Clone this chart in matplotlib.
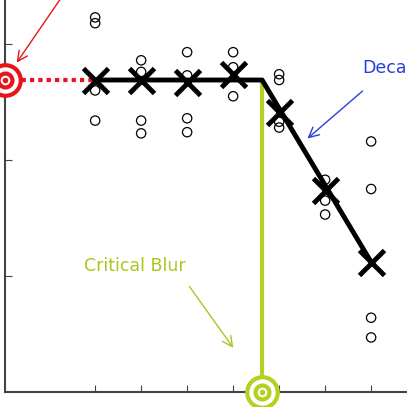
import matplotlib
matplotlib.use('Agg')
import matplotlib.pyplot as plt

# blur levels (x) and mean quality (y) of the fitted curve
mean_x = [1, 2, 3, 4, 5, 6, 7]
mean_y = [2.69, 2.69, 2.67, 2.74, 2.41, 1.74, 1.12]
fit_x = [1, 4.63, 7]
fit_y = [2.69, 2.69, 1.12]
critical_x = 4.63
baseline_y = 2.69

# individual observations
obs_x = [1, 1, 1, 1, 2, 2, 2, 2, 3, 3, 3, 3, 4, 4, 4, 5, 5, 5, 5, 6, 6, 6, 7, 7, 7, 7]
obs_y = [3.23, 3.18, 2.60, 2.34, 2.86, 2.76, 2.34, 2.23, 2.93, 2.73, 2.36, 2.24,
         2.93, 2.80, 2.55, 2.74, 2.69, 2.33, 2.28, 1.83, 1.65, 1.53, 2.16, 1.75, 0.64, 0.47]

fig = plt.figure(figsize=(4.07, 4.07), dpi=100)
ax = fig.add_axes([0.0123, 0.037, 0.9877, 0.963])
ax.set_xlim(-0.96, 7.78)
ax.set_ylim(0, 3.38)

ax.plot([-0.96, 1], [baseline_y, baseline_y], color='#e8141c', lw=3, ls=(0, (1, 1)))
ax.plot([critical_x, critical_x], [0, baseline_y], color='#b5cf22', lw=3)
ax.plot(fit_x, fit_y, color='black', lw=3.5, zorder=3)
ax.scatter(obs_x, obs_y, s=45, facecolors='none', edgecolors='black', lw=0.9, zorder=4)
ax.plot(mean_x, mean_y, 'x', color='black', ms=18, mew=3.5, zorder=5)

# target markers
for cx, cy, col in [(-0.96, baseline_y, '#e8141c'), (critical_x, 0, '#b5cf22')]:
    ax.plot(cx, cy, 'o', ms=22, mfc='white', mec=col, mew=3, clip_on=False, zorder=6)
    ax.plot(cx, cy, 'o', ms=10, mfc='white', mec=col, mew=3, clip_on=False, zorder=7)
    ax.plot(cx, cy, 'o', ms=3, color=col, clip_on=False, zorder=8)

ax.annotate('', xy=(-0.74, 2.82), xytext=(0.35, 3.45),
            arrowprops=dict(arrowstyle='->', color='#e8141c', lw=1, mutation_scale=18))
ax.annotate('Decay', xy=(5.57, 2.17), xytext=(6.8, 2.79), color='#2a3fd8', fontsize=12.5,
            va='center', ha='left',
            arrowprops=dict(arrowstyle='->', color='#2a3fd8', lw=1, mutation_scale=18,
                            shrinkA=12, relpos=(0.3, 0)))
ax.annotate('Critical Blur', xy=(4.04, 0.36), xytext=(1.87, 1.09), color='#a9c61e', fontsize=12.5,
            va='center', ha='center',
            arrowprops=dict(arrowstyle='->', color='#a9c61e', lw=1, mutation_scale=18,
                            shrinkA=8, relpos=(0.95, 0)))

ax.set_xticks(mean_x)
ax.set_yticks([1, 2, 3])
ax.set_xticklabels([])
ax.set_yticklabels([])
ax.tick_params(direction='in', length=5, color='#444444')
for s in ['top', 'right']:
    ax.spines[s].set_visible(False)
for s in ['left', 'bottom']:
    ax.spines[s].set_linewidth(1.5)
    ax.spines[s].set_color('#444444')

plt.savefig('out.png', dpi=100)
